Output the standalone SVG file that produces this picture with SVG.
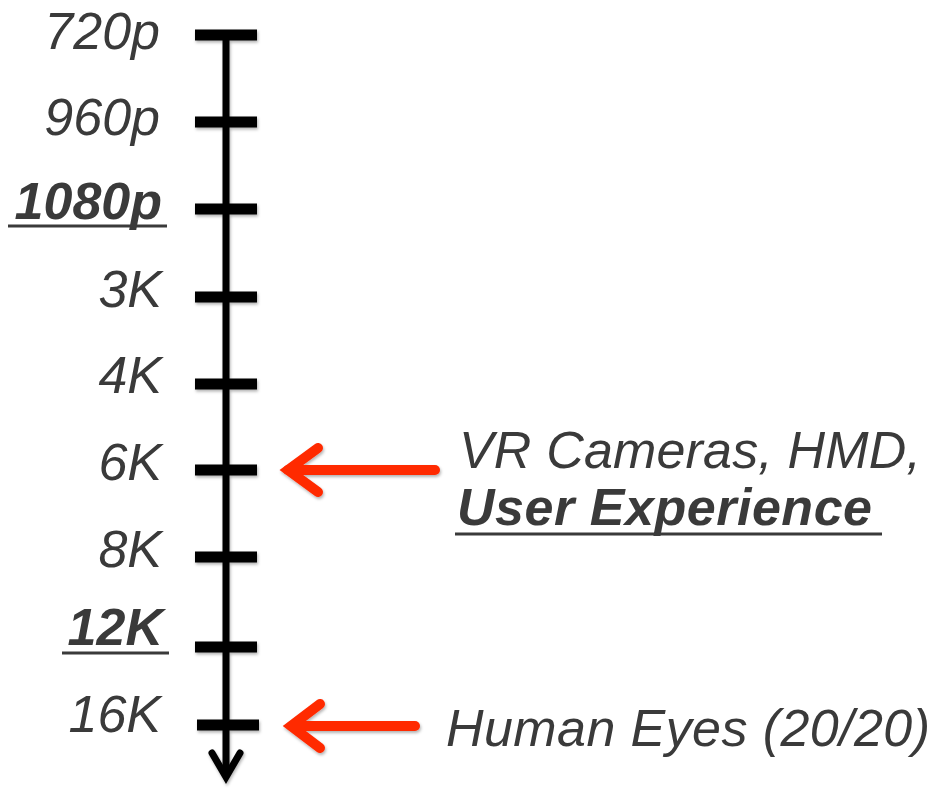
<svg xmlns="http://www.w3.org/2000/svg" width="943" height="789" viewBox="0 0 943 789">
  <style>
    .lbl { font-family: "Liberation Sans", Arial, sans-serif; font-style: italic; font-size: 52px; fill: #3a3a3a; }
    .b { font-weight: bold; }
    .ul { stroke: #3a3a3a; stroke-width: 3; }
    .axis { stroke: #000; stroke-width: 7; fill: none; }
    .tick { stroke: #000; stroke-width: 11; }
    .ptr { stroke: #ff2a00; stroke-width: 10; fill: none; stroke-linecap: round; stroke-linejoin: miter; }
  </style>
  <defs>
    <filter id="shadow" x="-10%" y="-10%" width="130%" height="130%">
      <feDropShadow dx="1" dy="2" stdDeviation="1.5" flood-color="#000" flood-opacity="0.3"/>
    </filter>
  </defs>

  <!-- resolution scale axis -->
  <g id="axis" filter="url(#shadow)">
    <line class="axis" x1="226" y1="35" x2="226" y2="776"/>
    <polyline class="axis" points="212,753 226,777 240,753" stroke-linecap="round"/>
    <line class="tick" x1="195" y1="35" x2="257" y2="35"/>
    <line class="tick" x1="195" y1="122" x2="257" y2="122"/>
    <line class="tick" x1="195" y1="209" x2="257" y2="209"/>
    <line class="tick" x1="195" y1="297" x2="257" y2="297"/>
    <line class="tick" x1="195" y1="384" x2="257" y2="384"/>
    <line class="tick" x1="195" y1="470" x2="257" y2="470"/>
    <line class="tick" x1="195" y1="557" x2="257" y2="557"/>
    <line class="tick" x1="195" y1="647" x2="257" y2="647"/>
    <line class="tick" x1="197" y1="725" x2="259" y2="725"/>
  </g>

  <!-- tick labels -->
  <g id="label-720p"><text class="lbl" x="160" y="49" text-anchor="end">720p</text></g>
  <g id="label-960p"><text class="lbl" x="160" y="135" text-anchor="end">960p</text></g>
  <g id="label-1080p">
    <text class="lbl b" x="162" y="219" text-anchor="end">1080p</text>
    <line class="ul" x1="8" y1="226" x2="167" y2="226"/>
  </g>
  <g id="label-3K"><text class="lbl" x="162" y="307" text-anchor="end">3K</text></g>
  <g id="label-4K"><text class="lbl" x="162" y="393" text-anchor="end">4K</text></g>
  <g id="label-6K"><text class="lbl" x="162" y="480" text-anchor="end">6K</text></g>
  <g id="label-8K"><text class="lbl" x="162" y="567" text-anchor="end">8K</text></g>
  <g id="label-12K">
    <text class="lbl b" x="163" y="645" text-anchor="end">12K</text>
    <line class="ul" x1="62" y1="653" x2="169" y2="653"/>
  </g>
  <g id="label-16K"><text class="lbl" x="161" y="732" text-anchor="end">16K</text></g>

  <!-- pointers -->
  <g id="connectors" filter="url(#shadow)">
    <path class="ptr" d="M435,470 H288" stroke-linecap="butt"/>
    <path class="ptr" d="M318,448 L288,470 L318,492"/>
    <path class="ptr" d="M415,726 H292" stroke-linecap="butt"/>
    <path class="ptr" d="M320,704 L291,726 L320,748"/>
  </g>

  <!-- annotations -->
  <g id="note-vr">
    <text class="lbl" x="459" y="468" textLength="462" lengthAdjust="spacing">VR Cameras, HMD,</text>
    <text class="lbl b" x="457" y="525" textLength="415" lengthAdjust="spacing">User Experience</text>
    <line class="ul" x1="455" y1="534" x2="882" y2="534"/>
  </g>
  <g id="note-eyes">
    <text class="lbl" x="446" y="746" textLength="484" lengthAdjust="spacing">Human Eyes (20/20)</text>
  </g>
</svg>
